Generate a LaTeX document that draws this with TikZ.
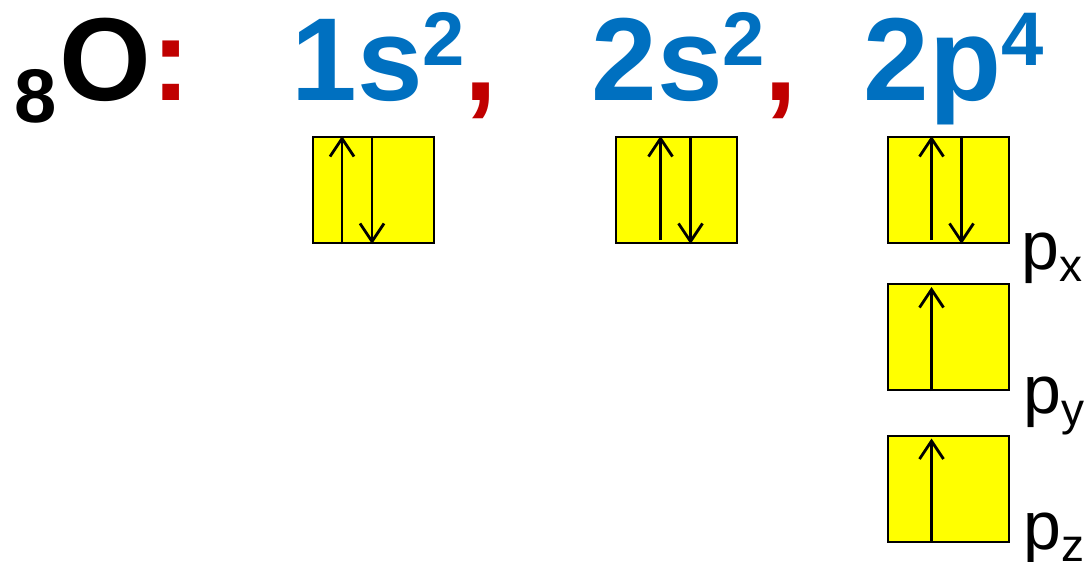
\documentclass[tikz,border=0pt]{standalone}
\usepackage{fontspec}
\setmainfont{Liberation Sans}
\usetikzlibrary{arrows.meta}
\definecolor{cfgblue}{HTML}{0070C0}
\definecolor{cfgred}{HTML}{C00000}
\definecolor{boxyellow}{HTML}{FFFF00}
\newcommand{\bigfont}{\fontsize{59}{59}\selectfont\bfseries}
\newcommand{\supfont}{\fontsize{38}{38}\selectfont\bfseries}
\newcommand{\labfont}{\fontsize{34}{34}\selectfont}
\newcommand{\idxfont}{\fontsize{23}{23}\selectfont}
\newcommand{\term}[2]{#1\raisebox{17.5pt}{\supfont #2}{\color{cfgred},}}
\newcommand{\plab}[1]{p\raisebox{-6pt}{\idxfont #1}}
\tikzset{
  orbital/.style={draw, line width=1pt, fill=boxyellow, minimum width=60.5pt,
    minimum height=53pt, inner sep=0pt},
  spin/.style={line width=1.4pt,
    -{Straight Barb[length=9pt,width=12pt,line width=1.4pt]}},
  cfg/.style={anchor=base west, inner sep=0pt, text=cfgblue, font=\bigfont},
  plabel/.style={anchor=base west, inner sep=0pt, font=\labfont}
}
\begin{document}
\begin{tikzpicture}[x=0.5pt, y=-0.5pt]
  \useasboundingbox (0,0) rectangle (1084,562);
  % element symbol
  \node[anchor=base west, inner sep=0pt, font=\fontsize{38}{38}\selectfont\bfseries] (sub8) at (14,122) {8};
  \node[anchor=base west, inner sep=0pt, font=\bigfont] (oxy) at (59,100) {O};
  \node[anchor=base west, inner sep=0pt, font=\bigfont, text=cfgred] (colon) at (oxy.base east) {:};
  % configuration
  \node[cfg] (t1s) at (291,100) {\term{1s}{2}};
  \node[cfg] (t2s) at (591,100) {\term{2s}{2}};
  \node[cfg] (t2p) at (863,100) {2p\raisebox{17.5pt}{\supfont 4}};
  % orbital boxes
  \node[orbital] (s1) at (373.5,190) {};
  \node[orbital] (s2) at (676,190) {};
  \node[orbital] (px) at (948,190) {};
  \node[orbital] (py) at (948,337) {};
  \node[orbital] (pz) at (948,488.5) {};
  % electrons
  \draw[spin] ([xshift=15pt]s1.south west) -- ([xshift=15pt]s1.north west);
  \draw[spin] ([xshift=30pt]s1.north west) -- ([xshift=30pt]s1.south west);
  \draw[spin] ([xshift=23pt,yshift=2pt]s2.south west) -- ([xshift=23pt]s2.north west);
  \draw[spin] ([xshift=38pt]s2.north west) -- ([xshift=38pt]s2.south west);
  \draw[spin] ([xshift=22.5pt,yshift=2pt]px.south west) -- ([xshift=22.5pt]px.north west);
  \draw[spin] ([xshift=37.5pt]px.north west) -- ([xshift=37.5pt]px.south west);
  \draw[spin] ([xshift=22.5pt]py.south west) -- ([xshift=22.5pt,yshift=-2pt]py.north west);
  \draw[spin] ([xshift=22.5pt]pz.south west) -- ([xshift=22.5pt,yshift=-2pt]pz.north west);
  % p labels
  \node[plabel] (lx) at (1021,269) {\plab{x}};
  \node[plabel] (ly) at (1023,413) {\plab{y}};
  \node[plabel] (lz) at (1023,549) {\plab{z}};
\end{tikzpicture}
\end{document}
